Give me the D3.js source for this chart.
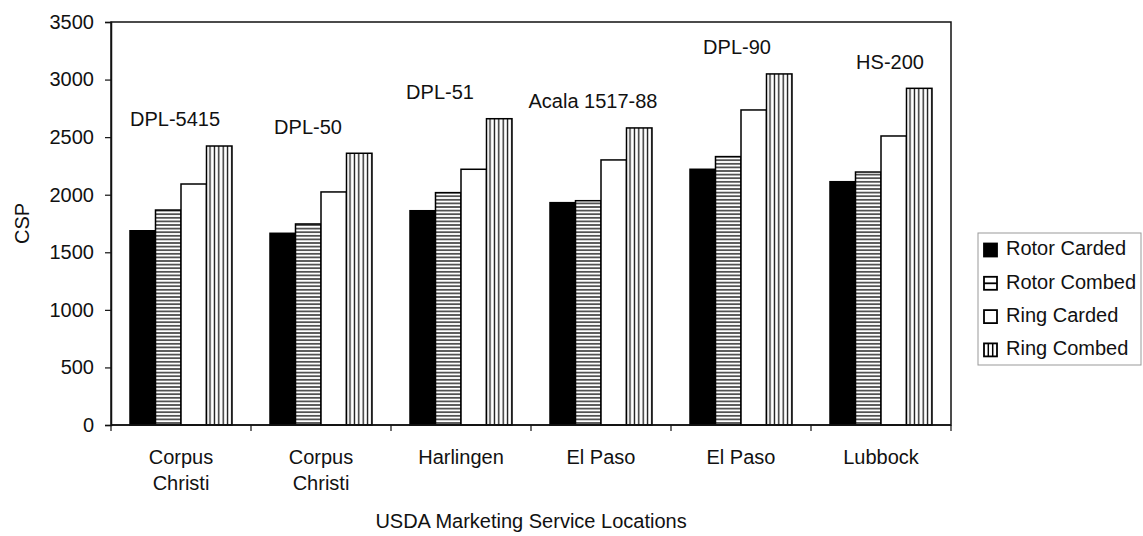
<!DOCTYPE html>
<html>
<head>
<meta charset="utf-8">
<script src="https://cdn.jsdelivr.net/npm/d3@7"></script>
<style>
  html, body { margin: 0; padding: 0; background: #fff; }
  svg { display: block; font-family: "Liberation Sans", Arial, sans-serif; }
</style>
</head>
<body>
<svg id="chart" width="1143" height="536"></svg>
<script>
// ---- data ----
const varieties = ["DPL-5415", "DPL-50", "DPL-51", "Acala 1517-88", "DPL-90", "HS-200"];
const locations = [["Corpus", "Christi"], ["Corpus", "Christi"], ["Harlingen"], ["El Paso"], ["El Paso"], ["Lubbock"]];
const seriesNames = ["Rotor Carded", "Rotor Combed", "Ring Carded", "Ring Combed"];
const rotorCarded = [1687, 1665, 1861, 1931, 2221, 2113];
const rotorCombed = [1867, 1746, 2018, 1948, 2331, 2197];
const ringCarded  = [2093, 2024, 2221, 2302, 2736, 2510];
const ringCombed  = [2423, 2360, 2660, 2580, 3049, 2924];
const yTicks = [0, 500, 1000, 1500, 2000, 2500, 3000, 3500];
const yLabel = "CSP";
const xLabel = "USDA Marketing Service Locations";

// ---- layout ----
const svg = d3.select("#chart");
const plot = { left: 111, top: 22, right: 951, bottom: 425 };
const FS = 20;
const labelDx = [-6, -13, -21, -8, -4, 9]; // hand placement of variety labels

const seriesValues = [rotorCarded, rotorCombed, ringCarded, ringCombed];

const x0 = d3.scaleBand().domain(varieties).range([plot.left, plot.right]).padding(0);
const x1 = d3.scaleBand().domain(seriesNames).range([0, x0.bandwidth()]).paddingInner(0).paddingOuter(0.745);
const y = d3.scaleLinear().domain([0, 3500]).range([plot.bottom, plot.top]);

// patterns
const defs = svg.append("defs");
const ph = defs.append("pattern").attr("id", "pH").attr("patternUnits", "userSpaceOnUse")
  .attr("width", 6).attr("height", 3.6);
ph.append("rect").attr("width", 6).attr("height", 3.6).attr("fill", "#fff");
ph.append("line").attr("x1", 0).attr("x2", 6).attr("y1", 1.8).attr("y2", 1.8)
  .attr("stroke", "#111").attr("stroke-width", 1.3);
const pv = defs.append("pattern").attr("id", "pV").attr("patternUnits", "userSpaceOnUse")
  .attr("width", 4.4).attr("height", 6);
pv.append("rect").attr("width", 4.4).attr("height", 6).attr("fill", "#fff");
pv.append("line").attr("x1", 2.2).attr("x2", 2.2).attr("y1", 0).attr("y2", 6)
  .attr("stroke", "#111").attr("stroke-width", 1.3);

const fills = ["#000", "url(#pH)", "#fff", "url(#pV)"];

// bars
const groups = svg.append("g").selectAll("g").data(varieties).join("g")
  .attr("transform", d => `translate(${x0(d)},0)`);
groups.selectAll("rect")
  .data((d, i) => seriesNames.map((s, k) => ({ s, k, v: seriesValues[k][i] })))
  .join("rect")
  .attr("x", d => x1(d.s))
  .attr("width", x1.bandwidth())
  .attr("y", d => y(d.v))
  .attr("height", d => y(0) - y(d.v))
  .attr("fill", d => fills[d.k])
  .attr("stroke", "#000")
  .attr("stroke-width", 1.5);

// variety labels
svg.append("g").selectAll("text").data(varieties).join("text")
  .attr("x", (d, i) => x0(d) + x0.bandwidth() / 2 + labelDx[i])
  .attr("y", (d, i) => y(Math.max(rotorCarded[i], rotorCombed[i], ringCarded[i], ringCombed[i])) - 25)
  .attr("text-anchor", "middle")
  .attr("dominant-baseline", "middle")
  .attr("font-size", FS)
  .attr("fill", "#111")
  .text(d => d);

// frame
svg.append("rect")
  .attr("x", plot.left).attr("y", plot.top)
  .attr("width", plot.right - plot.left).attr("height", plot.bottom - plot.top)
  .attr("fill", "none").attr("stroke", "#111").attr("stroke-width", 1.5);

// y axis
const yAxis = d3.axisLeft(y).tickValues(yTicks).tickSize(6).tickPadding(11).tickFormat(d3.format("d"));
const gy = svg.append("g").attr("transform", `translate(${plot.left},0)`).call(yAxis);
gy.select(".domain").attr("stroke", "#111").attr("stroke-width", 1.5);
gy.selectAll(".tick line").attr("stroke", "#111").attr("stroke-width", 1.2);
gy.selectAll(".tick text").attr("font-size", FS).attr("fill", "#111")
  .attr("font-family", "Liberation Sans, Arial, sans-serif");

// x axis: ticks at category boundaries
const boundaries = varieties.map(v => x0(v)).concat([plot.right]);
svg.append("g").selectAll("line").data(boundaries).join("line")
  .attr("x1", d => d).attr("x2", d => d)
  .attr("y1", plot.bottom).attr("y2", plot.bottom + 6)
  .attr("stroke", "#111").attr("stroke-width", 1.2);
svg.append("line")
  .attr("x1", plot.left).attr("x2", plot.right)
  .attr("y1", plot.bottom).attr("y2", plot.bottom)
  .attr("stroke", "#111").attr("stroke-width", 1.5);

const xl = svg.append("g").selectAll("text").data(varieties).join("text")
  .attr("text-anchor", "middle")
  .attr("font-size", FS)
  .attr("fill", "#111");
xl.each(function (d, i) {
  const t = d3.select(this);
  locations[i].forEach((line, j) => {
    t.append("tspan")
      .attr("x", x0(d) + x0.bandwidth() / 2)
      .attr("y", 464 + j * 26)
      .text(line);
  });
});

// axis titles
svg.append("text")
  .attr("x", (plot.left + plot.right) / 2)
  .attr("y", 528)
  .attr("text-anchor", "middle")
  .attr("font-size", FS)
  .attr("fill", "#111")
  .text(xLabel);
svg.append("text")
  .attr("transform", `translate(29,${(plot.top + plot.bottom) / 2}) rotate(-90)`)
  .attr("text-anchor", "middle")
  .attr("font-size", FS)
  .attr("fill", "#111")
  .text(yLabel);

// legend
const lg = svg.append("g");
lg.append("rect").attr("x", 978).attr("y", 233).attr("width", 163).attr("height", 132)
  .attr("fill", "#fff").attr("stroke", "#999").attr("stroke-width", 1);
const rowY = k => 250 + k * 33.3;
const items = lg.selectAll("g").data(seriesNames).join("g")
  .attr("transform", (d, k) => `translate(984,${rowY(k)})`);
items.append("rect")
  .attr("x", 0).attr("y", -6.5).attr("width", 13).attr("height", 13)
  .attr("fill", (d, k) => k === 0 ? "#000" : "#fff")
  .attr("stroke", "#000").attr("stroke-width", 1.8);
items.filter((d, k) => k === 1).append("line")
  .attr("x1", 0).attr("x2", 13).attr("y1", 0).attr("y2", 0)
  .attr("stroke", "#000").attr("stroke-width", 1.8);
items.filter((d, k) => k === 3).selectAll("line").data([4.3, 8.7]).join("line")
  .attr("x1", d => d).attr("x2", d => d).attr("y1", -6.5).attr("y2", 6.5)
  .attr("stroke", "#000").attr("stroke-width", 1.5);
items.append("text")
  .attr("x", 22).attr("y", 0)
  .attr("dominant-baseline", "middle")
  .attr("font-size", FS)
  .attr("fill", "#111")
  .text(d => d);
</script>
</body>
</html>
